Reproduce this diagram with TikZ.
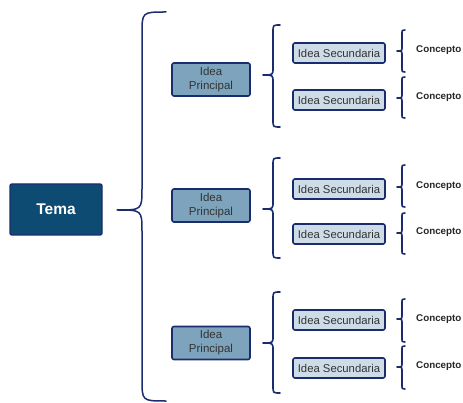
\documentclass[tikz,border=0pt]{standalone}
\usepackage{fontspec}
\setmainfont{Liberation Sans}
\definecolor{navy}{HTML}{1B2C6E}
\definecolor{temafill}{HTML}{0D4B72}
\definecolor{ipfill}{HTML}{7DA4BC}
\definecolor{isfill}{HTML}{CEDCE7}
\definecolor{txt}{HTML}{333333}
\newcommand{\brc}[8]{\draw[bracestyle,line width=#8] (#1,#4) .. controls (#2,#4) .. (#2,{#4+#7}) -- (#2,{#5-#7}) .. controls (#2,#5) .. (#3,#5) .. controls (#2,#5) .. (#2,{#5+#7}) -- (#2,{#6-#7}) .. controls (#2,#6) .. (#1,#6);}
\begin{document}
\begin{tikzpicture}[x=1pt,y=-1pt,
  bracestyle/.style={draw=navy,line cap=round,line join=round},
  temabox/.style={draw=navy,line width=1.4pt,fill=temafill,rounded corners=2pt,minimum width=92pt,minimum height=51pt,inner sep=0pt,text=white,font=\fontsize{15.5}{18}\selectfont\bfseries},
  ipbox/.style={draw=navy,line width=1.6pt,fill=ipfill,rounded corners=2pt,minimum width=78pt,minimum height=33pt,inner sep=0pt,text=txt,align=center,font=\fontsize{11.5}{14}\selectfont},
  isbox/.style={draw=navy,line width=1.6pt,fill=isfill,rounded corners=2pt,minimum width=92pt,minimum height=20pt,inner sep=0pt,text=txt,font=\fontsize{11.3}{13}\selectfont},
  concept/.style={anchor=west,inner sep=0pt,text=black!85,font=\fontsize{9.8}{12}\selectfont\bfseries}]
\useasboundingbox (0,0) rectangle (463,403);
% main topic
\node[temabox] (tema) at (56,209.5) {Tema};
% big brace
\brc{166}{142}{117}{12}{210}{401}{22}{1.5pt}
% principal ideas
\node[ipbox] (ip1) at (211,79.5) {Idea\\Principal};
\node[ipbox] (ip2) at (211,205.5) {Idea\\Principal};
\node[ipbox] (ip3) at (211,343) {Idea\\Principal};
% middle braces
\brc{280}{273}{263}{25}{75}{127}{7}{1.6pt}
\brc{280}{273}{263}{158}{209}{258}{7}{1.6pt}
\brc{280}{273}{263}{292}{343}{393}{7}{1.6pt}
% secondary ideas
\node[isbox] (is1) at (339,53) {Idea Secundaria};
\node[isbox] (is2) at (339,100) {Idea Secundaria};
\node[isbox] (is3) at (339,189) {Idea Secundaria};
\node[isbox] (is4) at (339,234) {Idea Secundaria};
\node[isbox] (is5) at (339,320) {Idea Secundaria};
\node[isbox] (is6) at (339,368) {Idea Secundaria};
% small braces
\brc{405}{402}{397}{30}{51}{72}{4}{1.6pt}
\brc{405}{402}{397}{77}{98}{118}{4}{1.6pt}
\brc{405}{402}{397}{165}{187}{207}{4}{1.6pt}
\brc{405}{402}{397}{213}{233}{254}{4}{1.6pt}
\brc{405}{402}{397}{299}{319}{342}{4}{1.6pt}
\brc{405}{402}{397}{346}{367}{389}{4}{1.6pt}
% concepts
\node[concept] (c1) at (416,50) {Concepto};
\node[concept] (c2) at (416,97) {Concepto};
\node[concept] (c3) at (416,186) {Concepto};
\node[concept] (c4) at (416,232) {Concepto};
\node[concept] (c5) at (416,319) {Concepto};
\node[concept] (c6) at (416,366) {Concepto};
\end{tikzpicture}
\end{document}
